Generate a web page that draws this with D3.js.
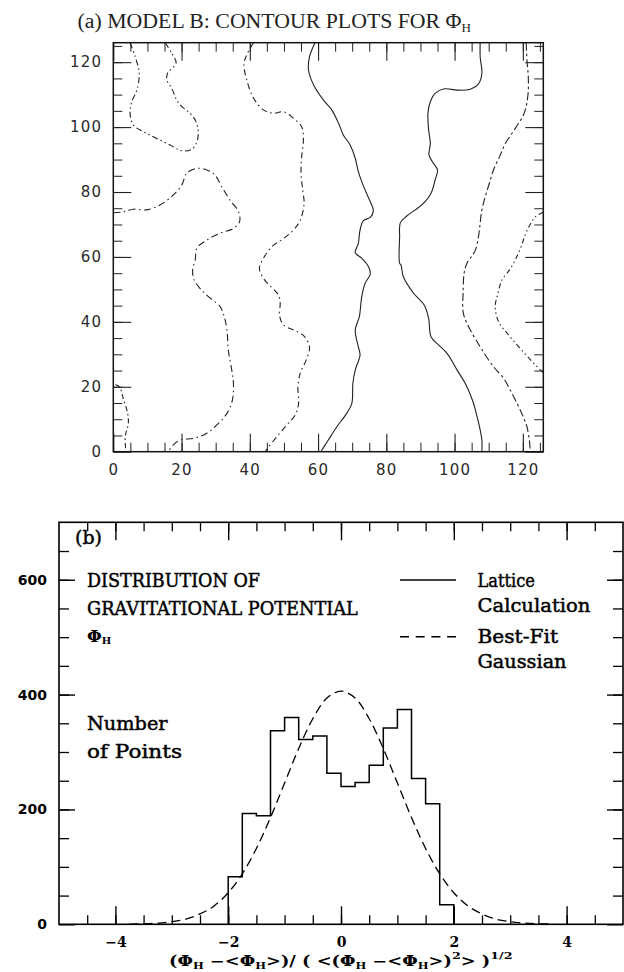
<!DOCTYPE html>
<html><head><meta charset="utf-8">
<script src="https://cdn.jsdelivr.net/npm/d3@7"></script>
<style>body{margin:0;background:#fff}svg{display:block}</style>
</head><body>
<svg id="c" width="624" height="972"></svg>
<script>
// ---------------- DATA ----------------
// Panel (a): contour lines, [x, y] in lattice units
const solidLeft = [[59.1,126],[57.5,121.7],[57.2,117.6],[58.7,113.0],[61.6,108.3],[64.0,105.3],[66.0,101.2],[67.4,97.6],[69.4,94.5],[70.9,90.4],[71.8,86.3],[72.8,83.2],[74.0,80.1],[75.3,77.0],[76.2,74.2],[75.3,72.2],[73.3,71.2],[72.3,68.3],[71.8,64.2],[70.9,61.3],[72.8,59.6],[74.8,57.0],[75.3,54.7],[73.8,51.9],[72.8,47.8],[72.1,41.6],[70.9,37.5],[71.8,32.3],[72.3,29.8],[70.9,25.2],[70.2,21.1],[69.9,14.9],[68.4,11.8],[65.5,7.7],[63.0,3.6],[60.8,0]];
const solidRight = [[107.5,126],[107.5,121.7],[108.0,116.6],[107.0,113.3],[104.4,111.6],[100.7,111.4],[97.0,111.8],[94.3,110.4],[92.9,107.8],[92.2,104.3],[92.4,99.1],[92.9,95.0],[92.5,91.4],[93.7,89.0],[95.0,86.8],[94.3,83.7],[93.1,79.6],[91.1,76.7],[88.5,74.5],[86.0,72.6],[84.1,70.5],[83.9,66.2],[83.9,58.0],[84.3,57.5],[85.0,53.9],[88.0,48.8],[91.1,45.2],[92.4,41.1],[93.1,35.4],[95.3,32.9],[97.8,30.3],[100.7,25.2],[103.4,20.5],[105.4,15.4],[106.6,10.8],[107.5,6.7],[108.0,3.6],[108.0,0]];
const loopTopLeft = [[4.9,126],[6.4,121.7],[7.6,116.6],[6.9,111.4],[5.4,107.8],[4.9,104.3],[5.9,100.6],[8.8,98.6],[12.7,96.5],[16.6,94.5],[20.1,92.7],[23.0,93.2],[24.5,95.5],[24.9,98.6],[24.0,102.2],[22.0,104.7],[20.1,106.3],[18.6,108.3],[17.1,112.0],[15.7,114.5],[15.9,116.6],[18.4,119.7],[17.1,122.8],[15.2,126]];
const dashLeft = [[0,73.6],[2.9,73.9],[5.9,74.7],[9.8,74.5],[13.7,76.0],[17.6,79.1],[20.1,82.2],[21.5,85.8],[24.5,87.3],[27.4,86.8],[29.8,85.2],[31.8,81.6],[34.2,77.5],[36.7,73.9],[37.0,70.9],[35.2,68.8],[31.3,67.3],[27.4,65.2],[24.5,62.7],[24.0,59.1],[23.3,56.5],[23.5,53.4],[25.4,50.3],[28.4,47.3],[31.3,44.7],[32.5,41.6],[33.3,37.5],[33.7,31.3],[34.7,25.2],[35.2,21.1],[34.9,15.9],[33.3,11.8],[30.8,8.7],[27.4,5.7],[23.5,4.1],[19.6,3.6],[17.6,2.1],[16.1,0]];
const dashCorner = [[0.6,20.6],[1.8,20.0],[2.9,16.4],[4.2,11.8],[4.4,8.7],[3.5,4.6],[3.7,0]];
const dashMidLeft = [[41.1,126],[39.3,122.7],[38.3,119.6],[39.1,114.5],[41.1,108.9],[44.0,105.3],[46.9,104.3],[49.9,104.7],[52.8,102.7],[55.2,100.1],[55.7,96.0],[55.2,90.9],[55.0,85.8],[55.5,80.6],[55.9,76.5],[54.8,71.4],[52.8,68.3],[49.9,65.7],[46.5,63.2],[44.0,59.6],[42.8,56.5],[44.0,53.4],[46.2,50.8],[48.4,48.3],[48.9,45.7],[48.7,42.1],[49.9,39.0],[53.3,37.3],[55.9,35.6],[57.5,32.3],[56.5,28.2],[54.8,24.3],[54.1,20.0],[54.3,14.9],[53.3,11.3],[50.8,8.2],[47.9,4.6],[45.5,1.5],[44.5,0]];
const dashRight = [[121.0,126],[121.2,120.7],[121.6,115.5],[121.5,109.9],[120.4,104.3],[117.8,99.6],[114.9,95.0],[113.2,90.9],[111.4,86.8],[110.2,82.7],[109.0,78.6],[108.0,74.5],[107.5,70.4],[107.0,66.2],[106.1,62.1],[104.6,59.6],[103.6,58.0],[102.8,55.0],[102.5,48.8],[102.5,43.1],[103.6,39.6],[107.5,32.3],[111.4,26.2],[114.4,22.6],[116.3,19.0],[118.3,14.9],[120.1,10.8],[121.2,7.7],[121.9,3.6],[122.2,0]];
const dashFarRight = [[126,73.8],[123.7,72.4],[122.2,70.1],[120.8,67.1],[119.5,63.2],[117.8,59.1],[116.1,56.0],[113.9,52.9],[112.6,48.3],[111.9,44.7],[112.9,40.0],[115.4,36.5],[118.3,32.9],[121.2,29.5],[123.7,26.7],[126,24.4]];
const xTicksA = [0,20,40,60,80,100,120];
const yTicksA = [0,20,40,60,80,100,120];

// Panel (b): histogram and best-fit gaussian
const binEdges  = [-2,-1.75,-1.5,-1.25,-1,-0.75,-0.5,-0.25,0,0.25,0.5,0.75,1,1.25,1.5,1.75,2];
const binCounts = [83,193,189,337,360,322,328,263,240,247,277,342,374,254,210,34];
const gaussX = [-3.75,-3.5,-3.25,-3,-2.75,-2.5,-2.25,-2,-1.75,-1.5,-1.25,-1,-0.75,-0.5,-0.25,0,0.25,0.5,0.75,1,1.25,1.5,1.75,2,2.25,2.5,2.75,3,3.25,3.5,3.75];
const gaussY = [0.4,0.9,2,4.5,9,18,32,55,88,132,186,246,306,358,394,406,394,358,306,246,186,132,88,55,32,18,9,4.5,2,0.9,0.4];
const xTicksB = [-4,-2,0,2,4];
const yTicksB = [0,200,400,600];

// ---------------- DRAW ----------------
const svg = d3.select("#c");
svg.append("rect").attr("width",624).attr("height",972).attr("fill","#fff");

function fit(sel, w){
  const bb = sel.node().getBBox();
  const x0 = bb.x, s = w / bb.width;
  sel.attr("transform", `translate(${x0},0) scale(${s},1) translate(${-x0},0)`);
}
function styleAxis(g, color, sw){
  g.select(".domain").remove();
  g.selectAll(".tick line").attr("stroke", color).attr("stroke-width", sw);
}

// ===== Panel (a) =====
const xa = d3.scaleLinear().domain([0,126]).range([113.3,543.3]);
const ya = d3.scaleLinear().domain([0,126]).range([451.7,42.7]);
const gA = svg.append("g");
const minorA = d3.range(5,126,5);
const colA = "#222";

function axesA(){
  const defs = [
    [d3.axisBottom, `translate(0,${ya(0)})`, true],
    [d3.axisTop, `translate(0,${ya(126)})`, false],
  ];
  defs.forEach(([ax, tr, lab])=>{
    const gm = gA.append("g").attr("transform",tr).call(ax(xa).tickValues(minorA).tickSize(-9).tickFormat(""));
    styleAxis(gm, colA, 1);
    const gM = gA.append("g").attr("transform",tr).call(ax(xa).tickValues(xTicksA).tickSize(-18).tickPadding(12.5).tickFormat(lab? d3.format("d") : ""));
    styleAxis(gM, colA, 1.1);
    gM.attr("font-family","DejaVu Sans").attr("font-size",15);
    gM.selectAll("text").attr("fill","#2a2a2a").attr("letter-spacing","1.2px");
  });
  const defsY = [
    [d3.axisLeft, `translate(${xa(0)},0)`, true],
    [d3.axisRight, `translate(${xa(126)},0)`, false],
  ];
  defsY.forEach(([ax, tr, lab])=>{
    const gm = gA.append("g").attr("transform",tr).call(ax(ya).tickValues(minorA).tickSize(-9).tickFormat(""));
    styleAxis(gm, colA, 1);
    const gM = gA.append("g").attr("transform",tr).call(ax(ya).tickValues(yTicksA).tickSize(-18).tickPadding(11).tickFormat(lab? d3.format("d") : ""));
    styleAxis(gM, colA, 1.1);
    gM.attr("font-family","DejaVu Sans").attr("font-size",15);
    gM.selectAll("text").attr("fill","#2a2a2a").attr("letter-spacing","1.2px");
  });
}
axesA();

const lineA = d3.line().x(d=>xa(d[0])).y(d=>ya(d[1])).curve(d3.curveCatmullRom.alpha(0.5));
const contours = [
  [solidLeft, null],
  [solidRight, null],
  [loopTopLeft, "6,3,1.5,3,1.5,3"],
  [dashLeft, "7,3.5,1.5,3.5"],
  [dashCorner, "5,3,1.5,3"],
  [dashMidLeft, "6,3.5,1.5,3.5"],
  [dashRight, "8,3,2.5,3"],
  [dashFarRight, "5,3,1.5,3,1.5,3"],
];
gA.append("g").selectAll("path").data(contours).join("path")
  .attr("d", d=>lineA(d[0]))
  .attr("fill","none").attr("stroke","#222").attr("stroke-width",1.1)
  .attr("stroke-dasharray", d=>d[1]);

gA.append("rect").attr("x",xa(0)).attr("y",ya(126)).attr("width",xa(126)-xa(0)).attr("height",ya(0)-ya(126))
  .attr("fill","none").attr("stroke","#111").attr("stroke-width",1.5);

const title = svg.append("text").attr("x",77.6).attr("y",28.3)
  .attr("font-family","Liberation Serif").attr("font-size",20).attr("fill","#222");
title.append("tspan").text("(a) MODEL B: CONTOUR PLOTS FOR Φ");
title.append("tspan").attr("font-size",12).attr("dy",4).text("H");
fit(title, 394);

// ===== Panel (b) =====
const xb = d3.scaleLinear().domain([-5,5]).range([59,623]);
const yb = d3.scaleLinear().domain([0,700]).range([924.3,522.3]);
const gB = svg.append("g");
const minorXB = d3.range(-4.5,4.6,0.5);
const minorYB = d3.range(50,700,50);

[[d3.axisBottom, `translate(0,${yb(0)})`, true],[d3.axisTop, `translate(0,${yb(700)})`, false]].forEach(([ax,tr,lab])=>{
  const gm = gB.append("g").attr("transform",tr).call(ax(xb).tickValues(minorXB).tickSize(-9).tickFormat(""));
  styleAxis(gm,"#000",1.3);
  const gM = gB.append("g").attr("transform",tr).call(ax(xb).tickValues(xTicksB).tickSize(-18).tickPadding(13).tickFormat(lab? d3.format("d") : ""));
  styleAxis(gM,"#000",1.4);
  gM.attr("font-family","DejaVu Serif").attr("font-size",14).attr("font-weight","bold");
  gM.selectAll("text").attr("fill","#000");
});
[[d3.axisLeft, `translate(${xb(-5)},0)`, true],[d3.axisRight, `translate(${xb(5)},0)`, false]].forEach(([ax,tr,lab])=>{
  const gm = gB.append("g").attr("transform",tr).call(ax(yb).tickValues(minorYB).tickSize(-10).tickFormat(""));
  styleAxis(gm,"#000",1.3);
  const gM = gB.append("g").attr("transform",tr).call(ax(yb).tickValues(yTicksB).tickSize(-16).tickPadding(12).tickFormat(lab? d3.format("d") : ""));
  styleAxis(gM,"#000",1.4);
  gM.attr("font-family","DejaVu Sans").attr("font-size",14).attr("font-weight","bold");
  gM.selectAll("text").attr("fill","#000");
});

// histogram step outline
const histPts = [[binEdges[0],0]];
binCounts.forEach((c,i)=>{ histPts.push([binEdges[i],c]); histPts.push([binEdges[i+1],c]); });
histPts.push([binEdges[binEdges.length-1],0]);
const lineB = d3.line().x(d=>xb(d[0])).y(d=>yb(d[1]));
gB.append("path").attr("d",lineB(histPts)).attr("fill","none").attr("stroke","#000").attr("stroke-width",1.5);

// gaussian
const gPts = gaussX.map((x,i)=>[x,gaussY[i]]);
gB.append("path").attr("d",lineB.curve(d3.curveCatmullRom)(gPts))
  .attr("fill","none").attr("stroke","#000").attr("stroke-width",1.3).attr("stroke-dasharray","9,5");

gB.append("rect").attr("x",xb(-5)).attr("y",yb(700)).attr("width",xb(5)-xb(-5)).attr("height",yb(0)-yb(700))
  .attr("fill","none").attr("stroke","#000").attr("stroke-width",1.6);

// texts
function txt(x,y,s,w,size){
  const t = svg.append("text").attr("x",x).attr("y",y).attr("font-family","DejaVu Serif")
    .attr("font-size",size||18).attr("fill","#000").attr("stroke","#000").attr("stroke-width",0.45).text(s);
  if(w) fit(t,w);
  return t;
}
txt(75,543.5,"(b)",27,19);
txt(87,587.3,"DISTRIBUTION OF",173);
txt(87,615,"GRAVITATIONAL POTENTIAL",271);
const phi = svg.append("text").attr("x",87).attr("y",642).attr("font-family","DejaVu Serif").attr("font-size",17).attr("font-weight","bold");
phi.append("tspan").text("Φ");
phi.append("tspan").attr("font-size",10).attr("dy",2).text("H");
txt(477.5,587.3,"Lattice",57.5);
txt(477.5,611.7,"Calculation",113.5);
txt(477.5,643.3,"Best-Fit",81.5);
txt(477.5,668.3,"Gaussian",89.5);
txt(87,730,"Number",81);
txt(87,758.3,"of Points",95);

// legend samples
svg.append("line").attr("x1",400).attr("x2",456).attr("y1",580).attr("y2",580).attr("stroke","#000").attr("stroke-width",1.5);
svg.append("line").attr("x1",400).attr("x2",456).attr("y1",636.7).attr("y2",636.7).attr("stroke","#000").attr("stroke-width",1.5).attr("stroke-dasharray","9,6.7");

// x-axis title
const xt = svg.append("text").attr("x",169).attr("y",966).attr("font-family","DejaVu Serif")
  .attr("font-size",14).attr("font-weight","bold").attr("fill","#000");
const parts = [["(Φ"],["H","sub"],[" −<Φ"],["H","sub"],[">)/ ( <(Φ"],["H","sub"],[" −<Φ"],["H","sub"],[">)"],["2","sup"],["> )"],["1/2","sup"]];
let shift = 0;
parts.forEach(([s,k])=>{
  const target = k==="sub" ? 3 : k==="sup" ? -6.5 : 0;
  const ts = xt.append("tspan").attr("dy", target-shift).text(s);
  if(k) ts.attr("font-size", k==="sub"?9:10);
  shift = target;
});
fit(xt, 344);
</script>
</body></html>
